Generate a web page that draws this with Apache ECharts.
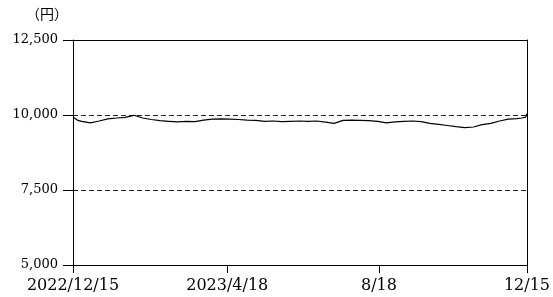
<!DOCTYPE html>
<html>
<head>
<meta charset="utf-8">
<script src="https://cdn.jsdelivr.net/npm/echarts@6/dist/echarts.min.js"></script>
<style>
    html, body {margin: 0; padding: 0; background: #fff;}
    #chart {width: 553px; height: 297px;}
</style>
</head>
<body>
<div id="chart"></div>
<script>
// 週次の基準価額(円)
const dates = [
    '2022-12-15', '2022-12-19', '2022-12-22', '2022-12-29', '2023-01-05', '2023-01-12', '2023-01-19', '2023-01-26',
    '2023-02-02', '2023-02-09', '2023-02-16', '2023-02-23', '2023-03-02', '2023-03-09', '2023-03-16',
    '2023-03-23', '2023-03-30', '2023-04-06', '2023-04-13', '2023-04-20', '2023-04-27', '2023-05-04',
    '2023-05-11', '2023-05-18', '2023-05-25', '2023-06-01', '2023-06-08', '2023-06-15', '2023-06-22',
    '2023-06-29', '2023-07-06', '2023-07-13', '2023-07-20', '2023-07-27', '2023-08-03', '2023-08-10',
    '2023-08-17', '2023-08-24', '2023-08-31', '2023-09-07', '2023-09-14', '2023-09-21', '2023-09-28',
    '2023-10-05', '2023-10-12', '2023-10-19', '2023-10-26', '2023-11-02', '2023-11-09', '2023-11-16',
    '2023-11-23', '2023-11-30', '2023-12-07', '2023-12-11', '2023-12-14', '2023-12-15'
];
const prices = [
    9930, 9820, 9790, 9740, 9800, 9870, 9900, 9920,
    9990, 9900, 9850, 9810, 9790, 9770, 9790,
    9780, 9830, 9860, 9870, 9860, 9850, 9830,
    9820, 9790, 9800, 9780, 9790, 9800, 9790,
    9800, 9760, 9720, 9820, 9830, 9820, 9810,
    9790, 9740, 9770, 9790, 9800, 9780, 9720,
    9690, 9650, 9610, 9580, 9600, 9680, 9720,
    9800, 9860, 9880, 9900, 9930, 10040
];
const tickDates = ['2022-12-15', '2023-04-18', '2023-08-18', '2023-12-15'];
const tickLabels = ['2022/12/15', '2023/4/18', '8/18', '12/15'];

const toTime = d => echarts.time.parse(d).getTime();
const tickTimes = tickDates.map(toTime);

const chart = echarts.init(document.getElementById('chart'), null, {renderer: 'canvas'});

chart.setOption({
    animation: false,
    title: {
        text: '（円）',
        left: 21,
        top: 2,
        textStyle: {fontFamily: 'Noto Sans CJK JP', fontSize: 14, fontWeight: 'normal', color: '#000'}
    },
    grid: {
        left: 73,
        right: 25,
        top: 40,
        bottom: 32
    },
    xAxis: [{
        type: 'value',
        min: tickTimes[0],
        max: tickTimes[tickTimes.length - 1],
        axisLine: {lineStyle: {color: '#000', width: 1}},
        axisTick: {show: true, length: 8, customValues: tickTimes, lineStyle: {color: '#000'}},
        axisLabel: {
            customValues: tickTimes,
            margin: 13,
            color: '#000',
            fontFamily: 'DejaVu Serif',
            fontSize: 16,
            hideOverlap: false,
            showMinLabel: true,
            showMaxLabel: true,
            formatter: function (value) {
                const i = tickTimes.indexOf(value);
                return i >= 0 ? tickLabels[i] : '';
            }
        },
        splitLine: {show: false}
    }, {
        // 上枠
        type: 'value',
        position: 'top',
        min: tickTimes[0],
        max: tickTimes[tickTimes.length - 1],
        axisLine: {show: true, lineStyle: {color: '#000', width: 1}},
        axisTick: {show: false},
        axisLabel: {show: false},
        splitLine: {show: false}
    }],
    yAxis: [{
        type: 'value',
        min: 5000,
        max: 12500,
        interval: 2500,
        axisLine: {show: true, lineStyle: {color: '#000', width: 1}},
        axisTick: {show: true, length: 10, lineStyle: {color: '#000'}},
        axisLabel: {
            margin: 15,
            color: '#000',
            fontFamily: 'DejaVu Serif',
            fontSize: 13,
            formatter: function (v) {
                return v.toLocaleString('en-US');
            }
        },
        splitLine: {
            show: true,
            lineStyle: {color: ['transparent', '#222', '#222', 'transparent'], width: 1, type: [5, 3]}
        }
    }, {
        // 右枠
        type: 'value',
        position: 'right',
        min: 5000,
        max: 12500,
        interval: 2500,
        axisLine: {show: true, lineStyle: {color: '#000', width: 1}},
        axisTick: {show: false},
        axisLabel: {show: false},
        splitLine: {show: false}
    }],
    series: [{
        type: 'line',
        data: dates.map((d, i) => [toTime(d), prices[i]]),
        showSymbol: false,
        symbol: 'none',
        lineStyle: {color: '#000', width: 1.2},
        z: 5
    }]
});
</script>
</body>
</html>
